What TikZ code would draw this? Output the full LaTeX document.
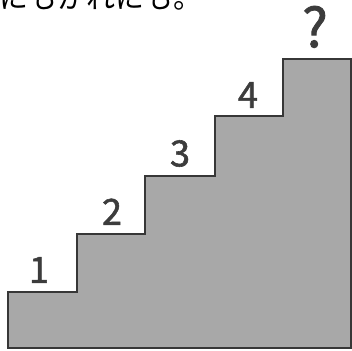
\documentclass[tikz,border=0pt]{standalone}
\usepackage{fontspec}
\newfontfamily\jpfont{Noto Sans CJK JP}
\newfontfamily\numfont[FakeBold=1.6]{Noto Sans CJK JP}
\usepackage{xcolor}
\definecolor{stairgray}{RGB}{168,168,168}
\definecolor{stairline}{RGB}{55,55,55}
\definecolor{numgray}{RGB}{60,60,60}
\usetikzlibrary{positioning}
\tikzset{
  stair_body/.style={fill=stairgray,draw=stairline,
    line width=1.3pt,line join=miter},
  step_num/.style={font=\numfont\fontsize{36}{36}\selectfont,
    text=numgray,inner sep=0pt,anchor=south},
  step_ask/.style={font=\numfont\fontsize{54}{54}\selectfont,
    text=numgray,inner sep=0pt,anchor=south},
  cut_text/.style={font=\jpfont\fontsize{29}{29}\selectfont,
    inner sep=0pt,anchor=base west},
}

\begin{document}
\begin{tikzpicture}[x=1pt,y=-1pt]
  \useasboundingbox (0,0) rectangle (352,350);
  \clip (0,0) rectangle (352,350);
  % line of text, cut at the top edge
  \node (caption) [cut_text] at (-1,9) {にもかれにも。};
  % the stairs
  \draw[stair_body] (8,348) -- (8,292) -- (77,292) -- (77,234)
    -- (145,234) -- (145,176) -- (215,176) -- (215,116)
    -- (283,116) -- (283,59) -- (351,59) -- (351,348) -- cycle;
  % step labels
  \node (num1) [step_num] at (39,283) {1};
  \node (num2) [step_num] at (112,225) {2};
  \node (num3) [step_num] at (180,167) {3};
  \node (num4) [step_num] at (248,108) {4};
  \node (numq) [step_ask] at (315,48) {?};
\end{tikzpicture}
\end{document}
